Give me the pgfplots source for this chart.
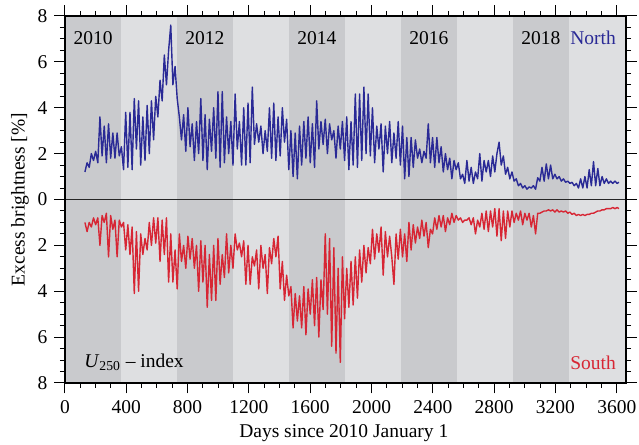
\documentclass[border=0pt]{standalone}
\usepackage{pgfplots}
\pgfplotsset{compat=1.18}
\usepackage{pgfplotstable}
\usepackage{fontspec}
\setmainfont{Liberation Serif}
\usetikzlibrary{calc}
\definecolor{banddark}{RGB}{201,202,205}
\definecolor{bandlight}{RGB}{222,223,225}
\definecolor{northc}{RGB}{42,42,150}
\definecolor{southc}{RGB}{215,38,52}

\pgfplotstableread{
x y
130 1.2
144 1.6
158 1.4
172 2.0
186 1.7
200 2.1
214 1.6
228 3.6
242 1.9
256 3.2
270 1.6
284 3.3
298 1.8
312 2.9
326 1.8
340 2.9
354 1.9
368 2.3
382 1.3
396 3.8
410 1.4
424 3.8
438 1.3
452 4.4
466 2.2
480 4.3
494 1.5
508 3.6
522 1.7
536 4.1
550 2.0
564 4.3
578 2.6
592 4.5
606 3.6
620 5.2
634 4.3
648 6.3
662 5.0
676 6.5
690 7.6
704 5.0
718 5.8
732 4.4
746 3.6
760 2.6
774 3.7
788 2.1
802 4.0
816 2.3
830 3.3
844 1.7
858 3.4
872 2.0
886 4.4
900 1.7
914 3.7
928 1.3
942 3.5
956 2.1
970 4.0
984 1.8
998 4.7
1012 1.4
1026 4.7
1040 1.6
1054 3.6
1068 2.0
1082 3.4
1096 1.5
1110 4.6
1124 2.2
1138 3.4
1152 1.5
1166 4.0
1180 1.5
1194 4.2
1208 1.6
1222 4.9
1236 2.4
1250 3.3
1264 2.5
1278 3.2
1292 2.0
1306 3.0
1320 2.1
1334 4.0
1348 1.8
1362 4.2
1376 1.7
1390 3.6
1404 1.9
1418 4.0
1432 2.5
1446 3.5
1460 1.3
1474 3.0
1488 1.0
1502 2.9
1516 0.9
1530 3.2
1544 1.5
1558 3.4
1572 1.8
1586 3.6
1600 1.6
1614 3.3
1628 1.4
1642 4.3
1656 2.2
1670 3.4
1684 2.4
1698 3.5
1712 2.0
1726 3.3
1740 2.6
1754 3.0
1768 1.8
1782 3.2
1796 2.2
1810 3.4
1824 1.7
1838 3.6
1852 1.3
1866 3.4
1880 1.5
1894 4.6
1908 1.4
1922 4.6
1936 1.7
1950 4.9
1964 2.0
1978 4.6
1992 1.9
2006 4.0
2020 1.6
2034 3.2
2048 2.2
2062 3.3
2076 1.2
2090 3.2
2104 2.0
2118 3.4
2132 1.6
2146 2.9
2160 1.8
2174 3.4
2188 1.5
2202 3.2
2216 0.9
2230 2.7
2244 1.0
2258 2.7
2272 1.4
2286 2.6
2300 1.8
2314 2.2
2328 1.6
2342 2.1
2356 1.8
2370 3.3
2384 1.6
2398 2.7
2412 1.4
2426 2.7
2440 1.6
2454 2.3
2468 1.2
2482 2.0
2496 1.3
2510 1.8
2524 0.9
2538 1.7
2552 1.3
2566 1.6
2580 0.9
2594 1.1
2608 0.7
2622 1.7
2636 0.8
2650 1.4
2664 0.7
2678 1.2
2692 0.9
2706 2.0
2720 0.8
2734 1.7
2748 1.2
2762 1.7
2776 1.0
2790 1.9
2804 1.2
2818 2.0
2832 2.5
2846 1.5
2860 1.9
2874 1.1
2888 1.4
2902 0.9
2916 1.2
2930 0.8
2944 0.9
2958 0.6
2972 0.7
2986 0.5
3000 0.6
3014 0.45
3028 0.55
3042 0.5
3056 0.6
3070 0.45
3084 0.95
3098 0.8
3112 1.4
3126 0.8
3140 1.55
3154 0.9
3168 1.5
3182 0.9
3196 1.1
3210 0.9
3224 1.0
3238 0.8
3252 0.9
3266 0.75
3280 0.8
3294 0.7
3308 0.75
3322 0.6
3336 0.7
3350 0.5
3364 0.9
3378 0.5
3392 1.0
3406 0.5
3420 1.3
3434 0.6
3448 1.65
3462 0.6
3476 1.35
3490 0.6
3504 1.0
3518 0.7
3532 0.9
3546 0.7
3560 0.8
3574 0.7
3588 0.8
3602 0.7
3614 0.75
}\north

\pgfplotstableread{
x y
130 -1.0
144 -1.4
158 -1.0
172 -1.2
186 -0.8
200 -1.1
214 -0.8
228 -2.0
242 -0.7
256 -1.0
270 -0.6
284 -2.5
298 -0.7
312 -1.3
326 -0.9
340 -2.5
354 -0.9
368 -1.2
382 -1.0
396 -2.2
410 -1.1
424 -2.4
438 -1.2
452 -4.1
466 -1.4
480 -4.0
494 -1.5
508 -2.4
522 -1.7
536 -2.2
550 -1.0
564 -2.0
578 -0.8
592 -1.9
606 -0.8
620 -2.7
634 -0.9
648 -2.4
662 -0.8
676 -3.6
690 -1.5
704 -3.6
718 -2.2
732 -3.9
746 -1.5
760 -2.7
774 -2.0
788 -3.0
802 -1.6
816 -2.6
830 -1.7
844 -3.0
858 -2.0
872 -4.0
886 -1.8
900 -3.6
914 -2.0
928 -4.7
942 -2.4
956 -4.4
970 -2.0
984 -4.4
998 -1.7
1012 -3.7
1026 -2.4
1040 -3.4
1054 -1.5
1068 -3.2
1082 -2.0
1096 -3.0
1110 -1.5
1124 -2.2
1138 -1.9
1152 -2.5
1166 -1.8
1180 -3.7
1194 -2.0
1208 -3.7
1222 -2.5
1236 -2.9
1250 -2.2
1264 -3.9
1278 -2.0
1292 -3.0
1306 -2.4
1320 -4.1
1334 -2.1
1348 -2.8
1362 -1.7
1376 -2.5
1390 -1.6
1404 -3.9
1418 -2.7
1432 -4.4
1446 -3.3
1460 -4.2
1474 -3.8
1488 -5.6
1502 -4.1
1516 -5.3
1530 -4.2
1544 -5.6
1558 -3.8
1572 -5.9
1586 -3.9
1600 -5.0
1614 -3.5
1628 -5.5
1642 -3.4
1656 -6.0
1670 -3.5
1684 -4.8
1698 -1.5
1712 -5.0
1726 -1.7
1740 -6.4
1754 -2.1
1768 -6.7
1782 -3.0
1796 -7.1
1810 -2.5
1824 -5.2
1838 -3.0
1852 -4.7
1866 -2.7
1880 -4.6
1894 -2.5
1908 -4.3
1922 -2.2
1936 -3.6
1950 -2.0
1964 -3.2
1978 -2.1
1992 -2.8
2006 -1.3
2020 -2.6
2034 -1.5
2048 -2.3
2062 -1.2
2076 -3.3
2090 -1.4
2104 -2.5
2118 -1.6
2132 -2.5
2146 -3.7
2160 -1.5
2174 -2.6
2188 -1.3
2202 -2.5
2216 -1.5
2230 -2.7
2244 -1.0
2258 -2.2
2272 -1.1
2286 -1.9
2300 -1.2
2314 -1.7
2328 -0.9
2342 -1.6
2356 -1.0
2370 -2.1
2384 -1.3
2398 -1.5
2412 -0.8
2426 -1.3
2440 -0.7
2454 -1.2
2468 -0.7
2482 -1.4
2496 -0.8
2510 -1.1
2524 -0.6
2538 -1.0
2552 -0.7
2566 -0.9
2580 -0.8
2594 -1.0
2608 -0.9
2622 -0.9
2636 -0.8
2650 -1.1
2664 -0.8
2678 -1.5
2692 -0.9
2706 -1.2
2720 -0.6
2734 -1.3
2748 -0.5
2762 -1.4
2776 -0.5
2790 -1.2
2804 -0.4
2818 -1.6
2832 -0.4
2846 -1.8
2860 -0.5
2874 -1.7
2888 -0.5
2902 -1.2
2916 -0.5
2930 -1.0
2944 -0.6
2958 -0.9
2972 -0.5
2986 -1.1
3000 -0.6
3014 -0.9
3028 -0.6
3042 -1.2
3056 -0.7
3070 -1.5
3084 -0.6
3098 -0.6
3112 -0.55
3126 -0.5
3140 -0.5
3154 -0.45
3168 -0.5
3182 -0.45
3196 -0.55
3210 -0.45
3224 -0.55
3238 -0.5
3252 -0.55
3266 -0.5
3280 -0.6
3294 -0.55
3308 -0.65
3322 -0.6
3336 -0.7
3350 -0.65
3364 -0.7
3378 -0.65
3392 -0.7
3406 -0.65
3420 -0.65
3434 -0.6
3448 -0.6
3462 -0.55
3476 -0.5
3490 -0.5
3504 -0.45
3518 -0.45
3532 -0.4
3546 -0.4
3560 -0.4
3574 -0.35
3588 -0.4
3602 -0.35
3614 -0.4
}\south

\begin{document}
\begin{tikzpicture}
\begin{axis}[
  scale only axis,
  width=280.5bp, height=183.5bp,
  xmin=0, xmax=3660, ymin=-8, ymax=8,
  axis on top,
  tick align=outside,
  major tick length=5.25bp,
  minor tick length=2.5bp,
  xtick={0,400,...,3600},
  minor x tick num=3,
  ytick={-8,-6,...,8},
  yticklabels={8,6,4,2,0,2,4,6,8},
  minor y tick num=3,
  axis line style={line width=0.6bp},
  every tick/.style={black, line width=0.5bp},
  /pgf/number format/assume math mode=true,
  /pgf/number format/set thousands separator={},
  font=\fontsize{9.75bp}{11.7bp}\selectfont,
  ticklabel style={font=\fontsize{9.75bp}{11.7bp}\selectfont},
  xlabel={Days since 2010 January 1},
  ylabel={Excess brightness [\%]},
  xlabel style={at={(axis description cs:0.497,-0.136)}, anchor=center},
  ylabel style={at={(axis description cs:-0.0802,0.5)}, anchor=center, rotate=0},
  clip=true,
]
% year bands
\addplot[fill=banddark, draw=none] coordinates {(0,-8) (365,-8) (365,8) (0,8)} -- cycle;
\addplot[fill=bandlight, draw=none] coordinates {(365,-8) (730,-8) (730,8) (365,8)} -- cycle;
\addplot[fill=banddark, draw=none] coordinates {(730,-8) (1096,-8) (1096,8) (730,8)} -- cycle;
\addplot[fill=bandlight, draw=none] coordinates {(1096,-8) (1461,-8) (1461,8) (1096,8)} -- cycle;
\addplot[fill=banddark, draw=none] coordinates {(1461,-8) (1826,-8) (1826,8) (1461,8)} -- cycle;
\addplot[fill=bandlight, draw=none] coordinates {(1826,-8) (2191,-8) (2191,8) (1826,8)} -- cycle;
\addplot[fill=banddark, draw=none] coordinates {(2191,-8) (2557,-8) (2557,8) (2191,8)} -- cycle;
\addplot[fill=bandlight, draw=none] coordinates {(2557,-8) (2922,-8) (2922,8) (2557,8)} -- cycle;
\addplot[fill=banddark, draw=none] coordinates {(2922,-8) (3287,-8) (3287,8) (2922,8)} -- cycle;
\addplot[fill=bandlight, draw=none] coordinates {(3287,-8) (3660,-8) (3660,8) (3287,8)} -- cycle;
% zero line
\addplot[black!85, line width=0.5bp] coordinates {(0,0) (3660,0)};
% series
\addplot[northc, line width=0.7bp, line join=round] table[x=x,y=y] {\north};
\addplot[southc, line width=0.7bp, line join=round] table[x=x,y=y] {\south};
% texts
\node at (axis cs:183,7.05) {2010};
\node at (axis cs:913,7.05) {2012};
\node at (axis cs:1644,7.05) {2014};
\node at (axis cs:2374,7.05) {2016};
\node at (axis cs:3105,7.05) {2018};
\node[text=northc] at (axis cs:3445,7.05) {North};
\node[text=southc] at (axis cs:3445,-7.1) {South};
\node[anchor=west] at (axis cs:80,-7.1) {\textit{U}\textsubscript{250} -- index};
\end{axis}
\pgfresetboundingbox
\path ($(current axis.south west)+(-32.5bp,-31bp)$) rectangle ($(current axis.north east)+(6.5bp,8bp)$);
\end{tikzpicture}
\end{document}
